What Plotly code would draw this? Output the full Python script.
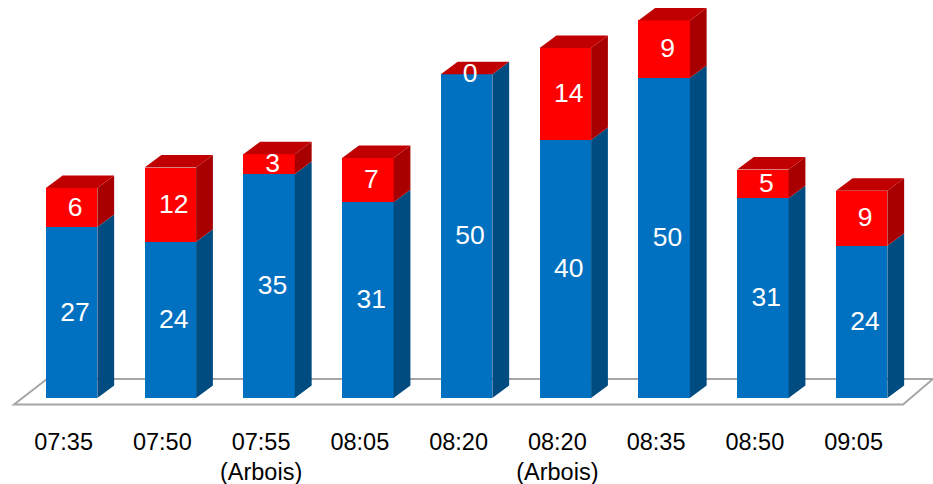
import plotly.graph_objects as go

times = ["07:35", "07:50", "07:55<br>(Arbois)", "08:05", "08:20", "08:20<br>(Arbois)", "08:35", "08:50", "09:05"]
blue_labels = [27, 24, 35, 31, 50, 40, 50, 31, 24]
red_labels = [6, 12, 3, 7, 0, 14, 9, 5, 9]
# Heights as drawn in the picture (the drawing departs slightly from its labels)
blue_heights = [26.7, 24.4, 35.0, 30.6, 50.6, 40.3, 50.0, 31.2, 23.8]
red_heights = [6.1, 11.6, 3.1, 6.9, 0.0, 14.4, 9.0, 4.5, 8.6]

BLUE, BLUE_SIDE = "#0070C0", "#004C80"
RED, RED_SIDE, RED_TOP = "#FF0000", "#A80000", "#C00000"
GREY = "#A6A6A6"
FONT = "Liberation Sans"

W, H = 933, 484
PLOT_BOTTOM = 425
PX_X, PX_Y = 98.75, 6.4          # pixels per category / per unit
X0_PX, Y0_PX = 71.6, 398         # pixel of first bar centre / of the value 0
BAR_W = 51.5 / PX_X
DX, DY = 16.8 / PX_X, 12.5 / PX_Y  # depth of the 3-D look
LABEL_DX, LABEL_DY = 3.5 / PX_X, -1.5 / PX_Y
TICK_DX = -8 / PX_X

xs = list(range(len(times)))
tops = [b + r for b, r in zip(blue_heights, red_heights)]


def polys(quads):
    px, py = [], []
    for q in quads:
        px += [p[0] for p in q] + [q[0][0], None]
        py += [p[1] for p in q] + [q[0][1], None]
    return px, py


def side(x, y0, y1):
    r = x + BAR_W / 2
    return [(r, y0), (r + DX, y0 + DY), (r + DX, y1 + DY), (r, y1)]


def top(x, y):
    l, r = x - BAR_W / 2, x + BAR_W / 2
    return [(l, y), (l + DX, y + DY), (r + DX, y + DY), (r, y)]


fig = go.Figure()
fig.add_bar(x=xs, y=blue_heights, width=BAR_W, marker=dict(color=BLUE, line_width=0), hoverinfo="skip")
fig.add_bar(x=xs, y=red_heights, width=BAR_W, marker=dict(color=RED, line_width=0), hoverinfo="skip")


def face(quads, color):
    px, py = polys(quads)
    fig.add_scatter(x=px, y=py, mode="lines", fill="toself", fillcolor=color,
                    line=dict(width=0, color=color), hoverinfo="skip")


face([side(x, 0, b) for x, b in zip(xs, blue_heights)], BLUE_SIDE)
face([side(x, b, t) for x, b, t in zip(xs, blue_heights, tops)], RED_SIDE)
face([top(x, t) for x, t in zip(xs, tops)], RED_TOP)

fig.add_scatter(x=[x + LABEL_DX for x in xs], y=[b / 2 + LABEL_DY for b in blue_heights],
                mode="text", text=[str(v) for v in blue_labels],
                textfont=dict(color="white", size=26.5, family=FONT), hoverinfo="skip")
fig.add_scatter(x=[x + LABEL_DX for x in xs], y=[b + r / 2 + LABEL_DY for b, r in zip(blue_heights, red_heights)],
                mode="text", text=[str(v) for v in red_labels],
                textfont=dict(color="white", size=26.5, family=FONT), hoverinfo="skip")

# Floor of the 3-D chart
floor_front_y, floor_back_y = -6.5 / PX_Y, 19 / PX_Y
fl, fr = (14 - X0_PX) / PX_X, (903 - X0_PX) / PX_X
bl, br = (47 - X0_PX) / PX_X, (933 - X0_PX) / PX_X
fig.add_shape(type="path", layer="below", xref="x", yref="y",
              path=f"M{fl},{floor_front_y} L{fr},{floor_front_y} L{br},{floor_back_y} L{bl},{floor_back_y} Z",
              line=dict(color=GREY, width=2), fillcolor="white")

fig.update_layout(
    width=W, height=H, autosize=False, barmode="stack", showlegend=False,
    margin=dict(l=0, r=0, t=0, b=H - PLOT_BOTTOM, pad=0, autoexpand=False),
    paper_bgcolor="white", plot_bgcolor="white",
    font=dict(family=FONT, color="black", size=23.5),
    xaxis=dict(range=[-X0_PX / PX_X, (W - X0_PX) / PX_X], tickmode="array",
               tickvals=[x + TICK_DX for x in xs], ticktext=times, tickangle=0,
               automargin=False,
               showgrid=False, zeroline=False, showline=False, ticks="",
               tickfont=dict(family=FONT, size=23.5, color="black")),
    yaxis=dict(range=[(Y0_PX - PLOT_BOTTOM) / PX_Y, Y0_PX / PX_Y], visible=False,
               showgrid=False, zeroline=False),
)

fig.write_html("out.html", config=dict(displayModeBar=False),
               post_script="document.body.style.margin='0';")
